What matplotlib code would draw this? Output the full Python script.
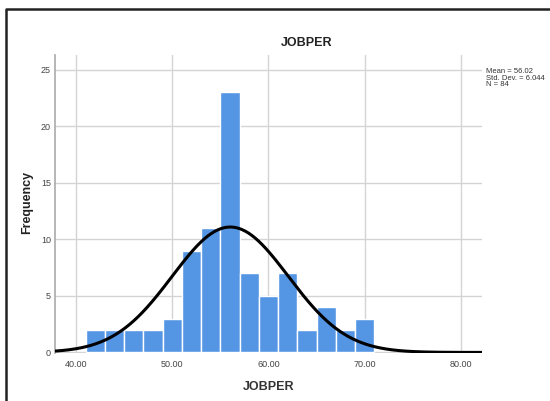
import numpy as np
import matplotlib
matplotlib.use("Agg")
import matplotlib.pyplot as plt
from matplotlib.lines import Line2D

plt.rcParams['font.family'] = ['Liberation Sans', 'DejaVu Sans']

# histogram of JOBPER, bins of width 2 from 41 to 71
bin_edges = [41, 43, 45, 47, 49, 51, 53, 55, 57, 59, 61, 63, 65, 67, 69, 71]
counts = [2, 2, 2, 2, 3, 9, 11, 23, 7, 5, 7, 2, 4, 2, 3]
mean = 56.02
std = 6.044
n = 84
x_ticks = [40, 50, 60, 70, 80]
y_ticks = [0, 5, 10, 15, 20, 25]

fig = plt.figure(figsize=(5.5, 4.01), dpi=100)

# outer frame: only top and left edges are inside the image
fx, fy = 5.5 / 550, 1 - 8.5 / 401
fig.lines.append(Line2D([fx, fx, 1.0], [0.0, fy, fy], transform=fig.transFigure,
                        color='#222222', linewidth=1.8))

ax = fig.add_axes([55 / 550, 48 / 401, 427 / 550, 298 / 401])

widths = np.diff(bin_edges)
ax.bar(bin_edges[:-1], counts, width=widths, align='edge',
       color='#5596E4', edgecolor='white', linewidth=1.0, zorder=2)

# fitted normal curve scaled to counts
xs = np.linspace(37.8, 82.2, 400)
pdf = np.exp(-0.5 * ((xs - mean) / std) ** 2) / (std * np.sqrt(2 * np.pi))
ax.plot(xs, n * widths[0] * pdf, color='black', linewidth=2.2, zorder=3,
        solid_capstyle='butt')

ax.set_xlim(37.8, 82.2)
ax.set_ylim(-0.05, 26.3)
ax.set_xticks(x_ticks)
ax.set_xticklabels([f"{t:.2f}" for t in x_ticks])
ax.set_yticks(y_ticks)
ax.grid(True, color='#d4d4d4', linewidth=1.0, zorder=0)
ax.set_axisbelow(True)

for s in ['top', 'right', 'bottom']:
    ax.spines[s].set_visible(False)
ax.spines['left'].set_color('#aaaaaa')
ax.spines['left'].set_linewidth(1.2)
ax.tick_params(axis='both', length=0, labelsize=6.5, labelcolor='#444444')
ax.tick_params(axis='y', pad=3)
ax.tick_params(axis='x', pad=5)

fig.text(307 / 550, 1 - 43 / 401, 'JOBPER', fontsize=9, fontweight='bold',
         color='#222222', ha='center', va='center')
ax.set_xlabel('JOBPER', fontsize=9, fontweight='bold', color='#333333', labelpad=9)
fig.text(27 / 550, 1 - 202 / 401, 'Frequency', fontsize=9, fontweight='bold',
         color='#222222', ha='center', va='center', rotation=90)

fig.text(486 / 550, 1 - 68 / 401,
         f"Mean = {mean:.2f}\nStd. Dev. = {std:.3f}\nN = {n}",
         fontsize=5.5, color='#333333', va='top', ha='left', linespacing=0.95)

fig.savefig('out.png', dpi=100)
